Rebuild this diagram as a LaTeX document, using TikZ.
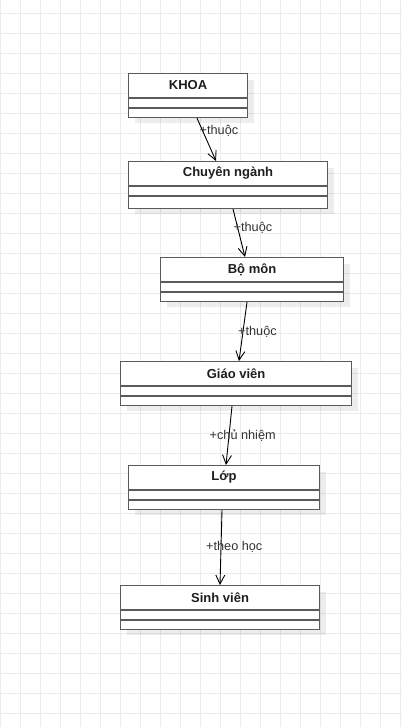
\documentclass[tikz,border=0pt]{standalone}
\usepackage{fontspec}
\setmainfont{Liberation Sans}
\usetikzlibrary{arrows.meta}
\definecolor{gridc}{HTML}{EBEBEB}
\definecolor{boxc}{HTML}{5A5A5A}
\definecolor{titlec}{HTML}{1E1E1E}
\definecolor{labc}{HTML}{333333}
\tikzset{
  umlbox/.style={draw=boxc, line width=1.1pt, fill=white, rectangle, anchor=north west, inner sep=0pt},
  shadowbox/.style={fill=black, fill opacity=0.07, draw=none},
  boxtitle/.style={font=\fontsize{13}{15}\selectfont\bfseries, text=titlec, inner sep=0pt},
  seprule/.style={draw=boxc, line width=1.1pt},
  assoc/.style={draw=black, line width=0.9pt, -{Straight Barb[length=9pt,width=9pt,line width=0.9pt]}},
  elabel/.style={font=\fontsize{12.7}{14}\selectfont, text=labc, inner sep=0pt, anchor=west}
}
\newcommand{\umlclass}[7]{%
  \fill[shadowbox] (#2+7,#3+7) rectangle (#2+#4+7,#3+#5+6);
  \node[umlbox, minimum width=#4pt, minimum height=#5pt] (#1) at (#2,#3) {};
  \node[boxtitle] (#1-t) at ([yshift=-12.5pt]#1.north) {#6};
  \foreach \s in {#7} {\draw[seprule] ([yshift=-\s pt]#1.north west) -- ([yshift=-\s pt]#1.north east);}
}
\begin{document}
\begin{tikzpicture}[x=1pt, y=-1pt]
\useasboundingbox (0,0) rectangle (402,727);
\fill[white] (0,0) rectangle (402,727);
\foreach \i in {0,20,...,400} {\draw[gridc, line width=0.8pt] (\i+0.5,0) -- (\i+0.5,727);}
\foreach \j in {13,33,...,713} {\draw[gridc, line width=0.8pt] (0,\j) -- (402,\j);}

\umlclass{khoa}{128}{73}{119}{44}{KHOA}{25,35}
\umlclass{cn}{128}{161}{199}{47}{Chuyên ngành}{25,35}
\umlclass{bm}{160}{257}{183}{44}{Bộ môn}{25,35}
\umlclass{gv}{120}{361}{231}{44}{Giáo viên}{25,35}
\umlclass{lop}{128}{465}{191}{44}{Lớp}{25,35}
\umlclass{sv}{120}{585}{199}{44}{Sinh viên}{25,35}

\draw[assoc] ([xshift=69pt]khoa.south west) -- ([xshift=88pt]cn.north west);
\draw[assoc] ([xshift=105pt]cn.south west) -- ([xshift=85pt]bm.north west);
\draw[assoc] ([xshift=87pt]bm.south west) -- ([xshift=119pt]gv.north west);
\draw[assoc] ([xshift=112pt]gv.south west) -- ([xshift=98pt]lop.north west);
\draw[assoc] ([xshift=94pt]lop.south west) -- ([xshift=100pt]sv.north west);

\node[elabel] (l1) at (199.5,131) {+thuộc};
\node[elabel] (l2) at (233.5,227.5) {+thuộc};
\node[elabel] (l3) at (238,332) {+thuộc};
\node[elabel] (l4) at (209.5,435.5) {+chủ nhiệm};
\node[elabel] (l5) at (206,546.5) {+theo học};
\end{tikzpicture}
\end{document}
